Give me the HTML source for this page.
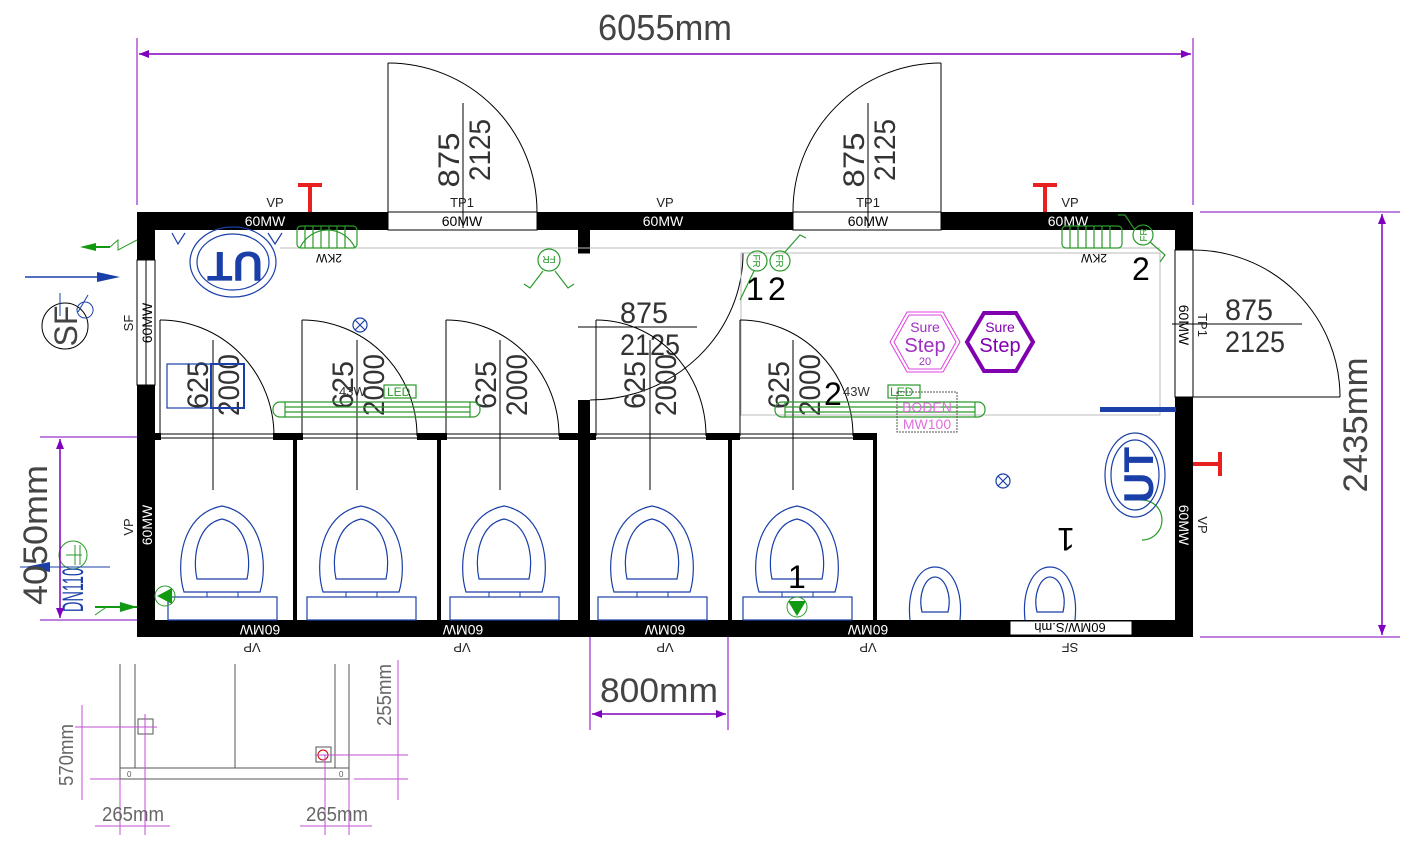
<!DOCTYPE html>
<html><head><meta charset="utf-8"><style>
html,body{margin:0;padding:0;background:#fff;}
svg{display:block;}
text{font-family:"Liberation Sans","DejaVu Sans",sans-serif;}
</style></head><body>
<svg width="1404" height="853" viewBox="0 0 1404 853" xmlns="http://www.w3.org/2000/svg">
<defs>
<marker id="ar" markerWidth="10" markerHeight="8" refX="10" refY="4" orient="auto" markerUnits="userSpaceOnUse"><path d="M0,0 L10,4 L0,8 Z" fill="#8000c0"/></marker>
<marker id="al" markerWidth="10" markerHeight="8" refX="0" refY="4" orient="auto" markerUnits="userSpaceOnUse"><path d="M10,0 L0,4 L10,8 Z" fill="#8000c0"/></marker>
<g id="wc">
<path d="M-38,86 C-46,60 -42,8 0,0 C42,8 46,60 38,86 Z" fill="none" stroke="#1a3fa8" stroke-width="1.2"/>
<path d="M-25,73 C-30,50 -24,18 0,13 C24,18 30,50 25,73 Z" fill="none" stroke="#1a3fa8" stroke-width="1.2"/>
<rect x="-15" y="86" width="31" height="5" fill="none" stroke="#1a3fa8"/>
<rect x="-54" y="91" width="109" height="23" fill="none" stroke="#1a3fa8" stroke-width="1.2"/>
</g>
<g id="ur">
<path d="M-25,53 C-28,25 -18,0 0,0 C18,0 28,25 25,53" fill="none" stroke="#1a3fa8" stroke-width="1.2"/>
<path d="M-13,45 C-17,28 -10,10 0,10 C10,10 17,28 13,45 Z" fill="none" stroke="#1a3fa8" stroke-width="1.2"/>
</g>
</defs>

<!-- top dimension -->
<line x1="137" y1="38" x2="137" y2="205" stroke="#8000c0" stroke-width="1"/>
<line x1="1193" y1="38" x2="1193" y2="205" stroke="#8000c0" stroke-width="1"/>
<line x1="139" y1="54" x2="1191" y2="54" stroke="#8000c0" stroke-width="1.5" marker-start="url(#al)" marker-end="url(#ar)"/>
<text x="598" y="40" font-size="36" fill="#444" textLength="134" lengthAdjust="spacingAndGlyphs">6055mm</text>

<!-- walls -->
<rect x="137" y="212" width="1056" height="425" fill="#000"/>
<rect x="155" y="230" width="1020" height="390" fill="#fff"/>
<!-- top door openings -->
<rect x="388" y="212" width="149" height="18" fill="#fff" stroke="#000" stroke-width="1"/>
<rect x="793" y="212" width="148" height="18" fill="#fff" stroke="#000" stroke-width="1"/>
<!-- left window -->
<rect x="137" y="260" width="18" height="125" fill="#fff" stroke="#000"/>
<line x1="146" y1="260" x2="146" y2="385" stroke="#000"/>
<!-- right door opening -->
<rect x="1175" y="250" width="18" height="147" fill="#fff" stroke="#000"/>

<!-- wall labels -->
<g font-size="14" text-anchor="middle">
<text x="265" y="226" fill="#fff">60MW</text>
<text x="663" y="226" fill="#fff">60MW</text>
<text x="1068" y="226" fill="#fff">60MW</text>
<text x="462" y="226" fill="#000">60MW</text>
<text x="868" y="226" fill="#000">60MW</text>
<text x="275" y="207" fill="#222" font-size="13">VP</text>
<text x="665" y="207" fill="#222" font-size="13">VP</text>
<text x="1070" y="207" fill="#222" font-size="13">VP</text>
<text x="462" y="207" fill="#222" font-size="13">TP1</text>
<text x="868" y="207" fill="#222" font-size="13">TP1</text>
<g transform="rotate(180 260 630)"><text x="260" y="635" fill="#fff">60MW</text></g>
<g transform="rotate(180 463 630)"><text x="463" y="635" fill="#fff">60MW</text></g>
<g transform="rotate(180 665 630)"><text x="665" y="635" fill="#fff">60MW</text></g>
<g transform="rotate(180 868 630)"><text x="868" y="635" fill="#fff">60MW</text></g>
<g transform="rotate(180 252 648)"><text x="252" y="653" fill="#222" font-size="13">VP</text></g>
<g transform="rotate(180 462 648)"><text x="462" y="653" fill="#222" font-size="13">VP</text></g>
<g transform="rotate(180 665 648)"><text x="665" y="653" fill="#222" font-size="13">VP</text></g>
<g transform="rotate(180 868 648)"><text x="868" y="653" fill="#222" font-size="13">VP</text></g>
<g transform="rotate(180 1070 648)"><text x="1070" y="653" fill="#222" font-size="13">SF</text></g>
<g transform="rotate(-90 147 323)"><text x="147" y="328" fill="#000">60MW</text></g>
<g transform="rotate(-90 128 323)"><text x="128" y="328" fill="#222" font-size="13">SF</text></g>
<g transform="rotate(-90 147 525)"><text x="147" y="530" fill="#fff">60MW</text></g>
<g transform="rotate(-90 128 527)"><text x="128" y="532" fill="#222" font-size="13">VP</text></g>
<g transform="rotate(90 1184 325)"><text x="1184" y="330" fill="#000">60MW</text></g>
<g transform="rotate(90 1203 325)"><text x="1203" y="330" fill="#222" font-size="13">TP1</text></g>
<g transform="rotate(90 1184 525)"><text x="1184" y="530" fill="#fff">60MW</text></g>
<g transform="rotate(90 1203 525)"><text x="1203" y="530" fill="#222" font-size="13">VP</text></g>
</g>
<rect x="1010" y="621" width="122" height="14" fill="#fff" stroke="#000"/>
<g transform="rotate(180 1070 628)"><text x="1070" y="633" font-size="13" text-anchor="middle">60MW/S.mh</text></g>

<!-- red T markers -->
<g fill="#e82020">
<rect x="298" y="183" width="24" height="4"/><rect x="308" y="183" width="4" height="29"/>
<rect x="1033" y="183" width="24" height="4"/><rect x="1043" y="183" width="4" height="29"/>
<rect x="1218" y="452" width="4" height="24"/><rect x="1193" y="462" width="27" height="4"/>
</g>

<!-- top doors -->
<g stroke="#000" fill="none" stroke-width="1">
<line x1="388" y1="63" x2="388" y2="212"/>
<path d="M388,63 A149,149 0 0 1 537,212"/>
<line x1="463" y1="103" x2="463" y2="228"/>
<line x1="941" y1="63" x2="941" y2="212"/>
<path d="M941,63 A148,148 0 0 0 793,212"/>
<line x1="868" y1="103" x2="868" y2="228"/>
<!-- right door -->
<line x1="1193" y1="397" x2="1340" y2="397"/>
<path d="M1193,250 A147,147 0 0 1 1340,397"/>
<line x1="1172" y1="324" x2="1302" y2="324"/>
<!-- central door -->
<path d="M743,253 A153,147 0 0 1 590,400"/>
<line x1="578" y1="327" x2="697" y2="327"/>
</g>
<g font-size="30" fill="#333">
<g transform="rotate(-90 448 160)"><text x="448" y="171" text-anchor="middle" textLength="55" lengthAdjust="spacingAndGlyphs">875</text></g>
<g transform="rotate(-90 479 150)"><text x="479" y="161" text-anchor="middle" textLength="62" lengthAdjust="spacingAndGlyphs">2125</text></g>
<g transform="rotate(-90 853 160)"><text x="853" y="171" text-anchor="middle" textLength="55" lengthAdjust="spacingAndGlyphs">875</text></g>
<g transform="rotate(-90 884 150)"><text x="884" y="161" text-anchor="middle" textLength="62" lengthAdjust="spacingAndGlyphs">2125</text></g>
<text x="1225" y="320" textLength="48" lengthAdjust="spacingAndGlyphs">875</text>
<text x="1225" y="352" textLength="60" lengthAdjust="spacingAndGlyphs">2125</text>
<text x="620" y="323" textLength="48" lengthAdjust="spacingAndGlyphs">875</text>
<text x="620" y="355" textLength="60" lengthAdjust="spacingAndGlyphs">2125</text>
</g>

<!-- central partition -->
<rect x="578" y="230" width="12" height="23" fill="#000"/>
<rect x="578" y="400" width="12" height="220" fill="#000"/>
<line x1="578" y1="253" x2="590" y2="253" stroke="#000"/>

<!-- inner light lines -->
<g stroke="#bbb" fill="none" stroke-width="1">
<line x1="280" y1="248" x2="1160" y2="248"/>
<rect x="741" y="253" width="419" height="162"/>
</g>

<!-- cubicle front line -->
<g stroke="#000" stroke-width="1" fill="none">
<line x1="155" y1="434" x2="877" y2="434"/>
<line x1="155" y1="438" x2="877" y2="438"/>
</g>
<g fill="#000">
<rect x="155" y="433" width="6" height="7"/>
<rect x="273" y="433" width="30" height="7"/>
<rect x="417" y="433" width="30" height="7"/>
<rect x="559" y="433" width="37" height="7"/>
<rect x="706" y="433" width="34" height="7"/>
<rect x="853" y="433" width="24" height="7"/>
<!-- partitions -->
<rect x="293" y="436" width="4" height="184"/>
<rect x="437" y="436" width="4" height="184"/>
<rect x="728" y="436" width="4" height="184"/>
<rect x="873" y="436" width="4" height="184"/>
</g>

<!-- cubicle doors -->
<g stroke="#000" fill="none" stroke-width="1">
<line x1="160" y1="320" x2="160" y2="436"/><path d="M160,320 A114,116 0 0 1 274,436"/>
<line x1="302" y1="320" x2="302" y2="436"/><path d="M302,320 A115,116 0 0 1 417,436"/>
<line x1="446" y1="320" x2="446" y2="436"/><path d="M446,320 A113,116 0 0 1 559,436"/>
<line x1="596" y1="320" x2="596" y2="436"/><path d="M596,320 A110,116 0 0 1 706,436"/>
<line x1="740" y1="320" x2="740" y2="436"/><path d="M740,320 A113,116 0 0 1 853,436"/>
<line x1="213" y1="340" x2="213" y2="490"/>
<line x1="357" y1="340" x2="357" y2="490"/>
<line x1="500" y1="340" x2="500" y2="490"/>
<line x1="650" y1="340" x2="650" y2="490"/>
<line x1="793" y1="340" x2="793" y2="490"/>
</g>
<g font-size="30" fill="#333">
<g transform="rotate(-90 197 385)"><text x="197" y="396" text-anchor="middle" textLength="48" lengthAdjust="spacingAndGlyphs">625</text></g>
<g transform="rotate(-90 228 385)"><text x="228" y="396" text-anchor="middle" textLength="62" lengthAdjust="spacingAndGlyphs">2000</text></g>
<g transform="rotate(-90 342 385)"><text x="342" y="396" text-anchor="middle" textLength="48" lengthAdjust="spacingAndGlyphs">625</text></g>
<g transform="rotate(-90 373 385)"><text x="373" y="396" text-anchor="middle" textLength="62" lengthAdjust="spacingAndGlyphs">2000</text></g>
<g transform="rotate(-90 485 385)"><text x="485" y="396" text-anchor="middle" textLength="48" lengthAdjust="spacingAndGlyphs">625</text></g>
<g transform="rotate(-90 516 385)"><text x="516" y="396" text-anchor="middle" textLength="62" lengthAdjust="spacingAndGlyphs">2000</text></g>
<g transform="rotate(-90 634 385)"><text x="634" y="396" text-anchor="middle" textLength="48" lengthAdjust="spacingAndGlyphs">625</text></g>
<g transform="rotate(-90 665 385)"><text x="665" y="396" text-anchor="middle" textLength="62" lengthAdjust="spacingAndGlyphs">2000</text></g>
<g transform="rotate(-90 778 385)"><text x="778" y="396" text-anchor="middle" textLength="48" lengthAdjust="spacingAndGlyphs">625</text></g>
<g transform="rotate(-90 809 385)"><text x="809" y="396" text-anchor="middle" textLength="62" lengthAdjust="spacingAndGlyphs">2000</text></g>
</g>

<!-- toilets -->
<use href="#wc" x="222" y="506"/>
<use href="#wc" x="361" y="506"/>
<use href="#wc" x="504" y="506"/>
<use href="#wc" x="652" y="506"/>
<use href="#wc" x="797" y="506"/>
<use href="#ur" x="935" y="567"/>
<use href="#ur" x="1050" y="567"/>

<!-- LED bars -->
<g stroke="#2a9a2a" fill="none" stroke-width="1.2">
<rect x="273" y="402" width="207" height="15" rx="7"/>
<line x1="285" y1="407" x2="470" y2="407"/><line x1="285" y1="412" x2="470" y2="412"/>
<line x1="285" y1="402" x2="285" y2="417"/><line x1="470" y1="402" x2="470" y2="417"/>
<rect x="384" y="385" width="32" height="13"/>
<rect x="775" y="402" width="210" height="15" rx="7"/>
<line x1="785" y1="407" x2="975" y2="407"/><line x1="785" y1="412" x2="975" y2="412"/>
<line x1="785" y1="402" x2="785" y2="417"/><line x1="975" y1="402" x2="975" y2="417"/>
<rect x="888" y="385" width="32" height="13"/>
<!-- radiators -->
<rect x="297" y="226" width="60" height="22" rx="4"/>
<path d="M305,226v22M313,226v22M321,226v22M329,226v22M337,226v22M345,226v22"/>
<rect x="1062" y="226" width="60" height="22" rx="4"/>
<path d="M1070,226v22M1078,226v22M1086,226v22M1094,226v22M1102,226v22M1110,226v22"/>
<!-- FR fixtures -->
<circle cx="549" cy="260" r="11"/><path d="M543,271 L530,288 L524,284 M555,271 L568,288 L574,284"/>
<circle cx="757" cy="261" r="10"/><circle cx="780" cy="261" r="10"/>
<path d="M754,271 L740,300 M785,252 L800,235 L806,238"/>
<circle cx="1143" cy="235" r="10"/><path d="M1135,230 L1125,215 L1118,215 M1150,242 L1165,255 L1160,262"/>
<path d="M300,248 A30,30 0 0 1 355,248"/>
<path d="M1142,500 A20,20 0 0 1 1142,540"/>
</g>
<g font-size="10" fill="#2a9a2a">
<text x="339" y="396" fill="#333" font-size="13">43W</text><text x="387" y="396" font-size="12">LED</text>
<text x="843" y="396" fill="#333" font-size="13">43W</text><text x="890" y="396" font-size="12">LED</text>
<g transform="rotate(180 549 260)"><text x="549" y="264" text-anchor="middle">FR</text></g>
<g transform="rotate(90 757 261)"><text x="757" y="265" text-anchor="middle">FR</text></g>
<g transform="rotate(90 780 261)"><text x="780" y="265" text-anchor="middle">FR</text></g>
<g transform="rotate(-90 1143 235)"><text x="1143" y="239" text-anchor="middle">FR</text></g>
<g transform="rotate(180 329 258)"><text x="329" y="262" text-anchor="middle" fill="#000" font-size="12">2KW</text></g>
<g transform="rotate(180 1094 258)"><text x="1094" y="262" text-anchor="middle" fill="#000" font-size="12">2KW</text></g>
</g>

<!-- UT symbols -->
<g stroke="#1a3fa8" fill="none" stroke-width="1.2">
<ellipse cx="233" cy="262" rx="43" ry="35"/><ellipse cx="233" cy="262" rx="36" ry="28"/>
<ellipse cx="1135" cy="475" rx="30" ry="42"/><ellipse cx="1135" cy="475" rx="24" ry="35"/>
<path d="M172,233 L178,244 L185,233 M268,233 L275,244 L282,233"/>
<circle cx="360" cy="325" r="7"/><path d="M355,320 l10,10 M365,320 l-10,10"/>
<circle cx="1003" cy="481" r="7"/><path d="M998,476 l10,10 M1008,476 l-10,10"/>
<rect x="167" y="364" width="44" height="44"/><rect x="211" y="364" width="33" height="44" stroke-width="2"/>
</g>
<g transform="rotate(180 235 267)"><text x="235" y="282" text-anchor="middle" font-size="42" font-weight="bold" fill="#1a3fa8">UT</text></g>
<g transform="rotate(-90 1138 475)"><text x="1138" y="490" text-anchor="middle" font-size="42" font-weight="bold" fill="#1a3fa8">UT</text></g>
<rect x="1100" y="407" width="76" height="5" fill="#1a3fa8"/>

<!-- Sure Step -->
<polygon points="890,342 907,312 943,312 960,342 943,372 907,372" fill="none" stroke="#e040e0" stroke-width="1"/>
<polygon points="894,342 909,315 941,315 956,342 941,369 909,369" fill="none" stroke="#e040e0" stroke-width="1"/>
<text x="925" y="332" font-size="14" fill="#a030c0" text-anchor="middle">Sure</text>
<text x="925" y="352" font-size="20" fill="#a030c0" text-anchor="middle">Step</text>
<text x="925" y="365" font-size="11" fill="#a030c0" text-anchor="middle">20</text>
<polygon points="967,342 984,313 1016,313 1033,342 1016,371 984,371" fill="none" stroke="#8000b0" stroke-width="4"/>
<text x="1000" y="332" font-size="14" fill="#8000b0" text-anchor="middle">Sure</text>
<text x="1000" y="352" font-size="20" fill="#8000b0" text-anchor="middle">Step</text>
<rect x="897" y="392" width="60" height="40" fill="none" stroke="#555" stroke-dasharray="2,1"/>
<text x="927" y="412" font-size="14" fill="#e070e0" text-anchor="middle">BODEN</text>
<text x="927" y="429" font-size="14" fill="#e070e0" text-anchor="middle">MW100</text>

<!-- numbers -->
<g font-size="32" fill="#000">
<text x="746" y="300">1</text><text x="768" y="300">2</text>
<text x="1132" y="280">2</text>
<text x="824" y="405">2</text>
<text x="788" y="588">1</text>
<g transform="rotate(180 1066 540)"><text x="1066" y="552" text-anchor="middle">1</text></g>
</g>
<circle cx="797" cy="607" r="10" fill="none" stroke="#2a9a2a"/><path d="M788,601 L806,601 L797,616 Z" fill="#119911"/>
<circle cx="165" cy="596" r="10" fill="none" stroke="#2a9a2a"/><path d="M157,596 L172,588 L172,604 Z" fill="#119911"/>

<!-- left external symbols -->
<path d="M85,247 L110,247" stroke="#119911" stroke-width="2"/><path d="M80,247 L96,243 L96,251 Z" fill="#119911"/>
<path d="M110,247 L118,240 L118,250 L137,240" stroke="#2a9a2a" fill="none"/>
<path d="M25,277 L100,277" stroke="#1a3fa8" stroke-width="1.5"/><path d="M120,277 L97,272 L97,282 Z" fill="#1a3fa8"/>
<circle cx="65" cy="326" r="23" fill="none" stroke="#000"/>
<g transform="rotate(-90 65 326)"><text x="65" y="338" font-size="32" text-anchor="middle" fill="#444">SF</text></g>
<path d="M60,293 L60,316 M88,295 L78,312 M85,302 a8,8 0 1 0 0.1,0" stroke="#1a3fa8" fill="none"/>
<path d="M95,607 L137,607" stroke="#119911" stroke-width="2"/><path d="M137,607 L120,602 L120,612 Z" fill="#119911"/>
<path d="M95,615 L108,606" stroke="#2a9a2a"/>
<circle cx="73" cy="555" r="14" fill="none" stroke="#2a9a2a"/>
<path d="M75,545 v20 M80,545 v20 M66,555 h16" stroke="#2a9a2a"/>
<g transform="rotate(-90 72 590)"><text x="72" y="601" font-size="30" text-anchor="middle" fill="#1a3fa8" textLength="44" lengthAdjust="spacingAndGlyphs">DN110</text></g>
<path d="M20,567 L110,567" stroke="#1a3fa8" stroke-width="1"/><path d="M25,567 L50,562 L50,572 Z" fill="#1a3fa8"/>

<!-- left dim -->
<line x1="40" y1="437" x2="137" y2="437" stroke="#8000c0"/>
<line x1="40" y1="620" x2="137" y2="620" stroke="#8000c0"/>
<line x1="60" y1="439" x2="60" y2="618" stroke="#8000c0" stroke-width="1.5" marker-start="url(#al)" marker-end="url(#ar)"/>
<g transform="rotate(-90 35 535)"><text x="35" y="547" font-size="34" text-anchor="middle" fill="#444" textLength="140" lengthAdjust="spacingAndGlyphs">4050mm</text></g>

<!-- right dim -->
<line x1="1200" y1="212" x2="1400" y2="212" stroke="#8000c0"/>
<line x1="1200" y1="637" x2="1400" y2="637" stroke="#8000c0"/>
<line x1="1382" y1="214" x2="1382" y2="635" stroke="#8000c0" stroke-width="1.5" marker-start="url(#al)" marker-end="url(#ar)"/>
<g transform="rotate(-90 1355 425)"><text x="1355" y="437" font-size="34" text-anchor="middle" fill="#444" textLength="135" lengthAdjust="spacingAndGlyphs">2435mm</text></g>

<!-- bottom dim -->
<line x1="590" y1="637" x2="590" y2="730" stroke="#8000c0"/>
<line x1="728" y1="637" x2="728" y2="730" stroke="#8000c0"/>
<line x1="592" y1="714" x2="726" y2="714" stroke="#8000c0" stroke-width="1.5" marker-start="url(#al)" marker-end="url(#ar)"/>
<text x="600" y="702" font-size="34" fill="#444" textLength="118" lengthAdjust="spacingAndGlyphs">800mm</text>

<!-- bottom-left detail -->
<g stroke="#555" fill="none" stroke-width="1">
<line x1="120" y1="664" x2="120" y2="779"/><line x1="135" y1="664" x2="135" y2="768"/>
<line x1="235" y1="664" x2="235" y2="768"/>
<line x1="335" y1="664" x2="335" y2="768"/><line x1="349" y1="664" x2="349" y2="779"/>
<rect x="120" y="768" width="229" height="11"/>
<rect x="138" y="719" width="15" height="15"/>
<rect x="316" y="747" width="15" height="15"/><circle cx="323" cy="755" r="5" stroke="#c00"/>
</g>
<text x="127" y="777" font-size="8" fill="#555">0</text><text x="339" y="777" font-size="8" fill="#555">0</text>
<g stroke="#c050d0" fill="none" stroke-width="1">
<line x1="75" y1="727" x2="157" y2="727"/>
<line x1="90" y1="779" x2="120" y2="779"/>
<line x1="82" y1="705" x2="82" y2="800"/>
<line x1="120" y1="779" x2="120" y2="835"/>
<line x1="145" y1="714" x2="145" y2="835"/>
<line x1="95" y1="826" x2="170" y2="826"/>
<line x1="315" y1="755" x2="408" y2="755"/>
<line x1="354" y1="779" x2="408" y2="779"/>
<line x1="398" y1="660" x2="398" y2="800"/>
<line x1="325" y1="755" x2="325" y2="835"/>
<line x1="349" y1="779" x2="349" y2="835"/>
<line x1="300" y1="826" x2="372" y2="826"/>
</g>
<text x="102" y="821" font-size="20" fill="#666" textLength="62" lengthAdjust="spacingAndGlyphs">265mm</text>
<text x="306" y="821" font-size="20" fill="#666" textLength="62" lengthAdjust="spacingAndGlyphs">265mm</text>
<g transform="rotate(-90 66 755)"><text x="66" y="762" font-size="20" text-anchor="middle" fill="#666" textLength="62" lengthAdjust="spacingAndGlyphs">570mm</text></g>
<g transform="rotate(-90 384 695)"><text x="384" y="702" font-size="20" text-anchor="middle" fill="#666" textLength="62" lengthAdjust="spacingAndGlyphs">255mm</text></g>
</svg>
</body></html>
